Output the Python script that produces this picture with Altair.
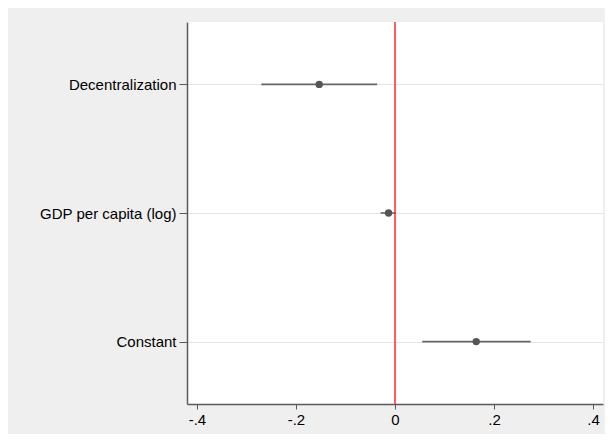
import altair as alt
import pandas as pd

terms = ["Decentralization", "GDP per capita (log)", "Constant"]
coef = [-0.153, -0.013, 0.164]
ci_low = [-0.270, -0.029, 0.055]
ci_high = [-0.036, 0.002, 0.274]
x_ticks = [-0.4, -0.2, 0.0, 0.2, 0.4]
x_labels = ["-.4", "-.2", "0", ".2", ".4"]
ref_value = [0.0]

df = pd.DataFrame({"term": terms, "coef": coef, "lo": ci_low, "hi": ci_high})
ref = pd.DataFrame({"zero": ref_value})

label_expr = " : ".join(
    [f"abs(datum.value - ({v})) < 1e-9 ? '{l}'" for v, l in zip(x_ticks, x_labels)]
) + " : ''"

x_scale = alt.Scale(domain=[-0.42, 0.42], nice=False, zero=False)
y_scale = alt.Scale(type="point", domain=terms, padding=0.485)

x_axis = alt.Axis(
    title=None, values=x_ticks, labelExpr=label_expr, grid=False,
    tickSize=5, labelPadding=3, labelFlush=False,
)
y_axis = alt.Axis(
    title=None, grid=True, gridColor="#e4e4e4", gridWidth=1,
    tickSize=8, labelPadding=3,
)

ci = alt.Chart(df).mark_rule(color="#666666", strokeWidth=1.6).encode(
    x=alt.X("lo:Q", scale=x_scale, axis=x_axis),
    x2="hi:Q",
    y=alt.Y("term:N", scale=y_scale, axis=y_axis, sort=terms),
)

pts = alt.Chart(df).mark_circle(color="#555555", size=55, opacity=1).encode(
    x=alt.X("coef:Q", scale=x_scale, axis=x_axis),
    y=alt.Y("term:N", scale=y_scale, axis=y_axis, sort=terms),
)

zero = alt.Chart(ref).mark_rule(color="#ff2a2a", strokeWidth=1.5).encode(
    x=alt.X("zero:Q", scale=x_scale, axis=x_axis),
)

chart = (
    alt.layer(ci, pts, zero)
    .properties(
        width=416,
        height=382,
        background="#efefef",
        autosize=alt.AutoSizeParams(type="none"),
        padding={"left": 179, "top": 14, "right": 2, "bottom": 30},
    )
    .configure_view(stroke=None, fill="white")
    .configure_axis(
        labelFont="Liberation Sans",
        labelFontSize=15,
        labelColor="#000000",
        domainColor="#5a5a5a",
        domainWidth=1.5,
        tickColor="#5a5a5a",
        tickWidth=1,
    )
)

chart.save("out.html", embed_options={"renderer": "svg", "actions": False})
